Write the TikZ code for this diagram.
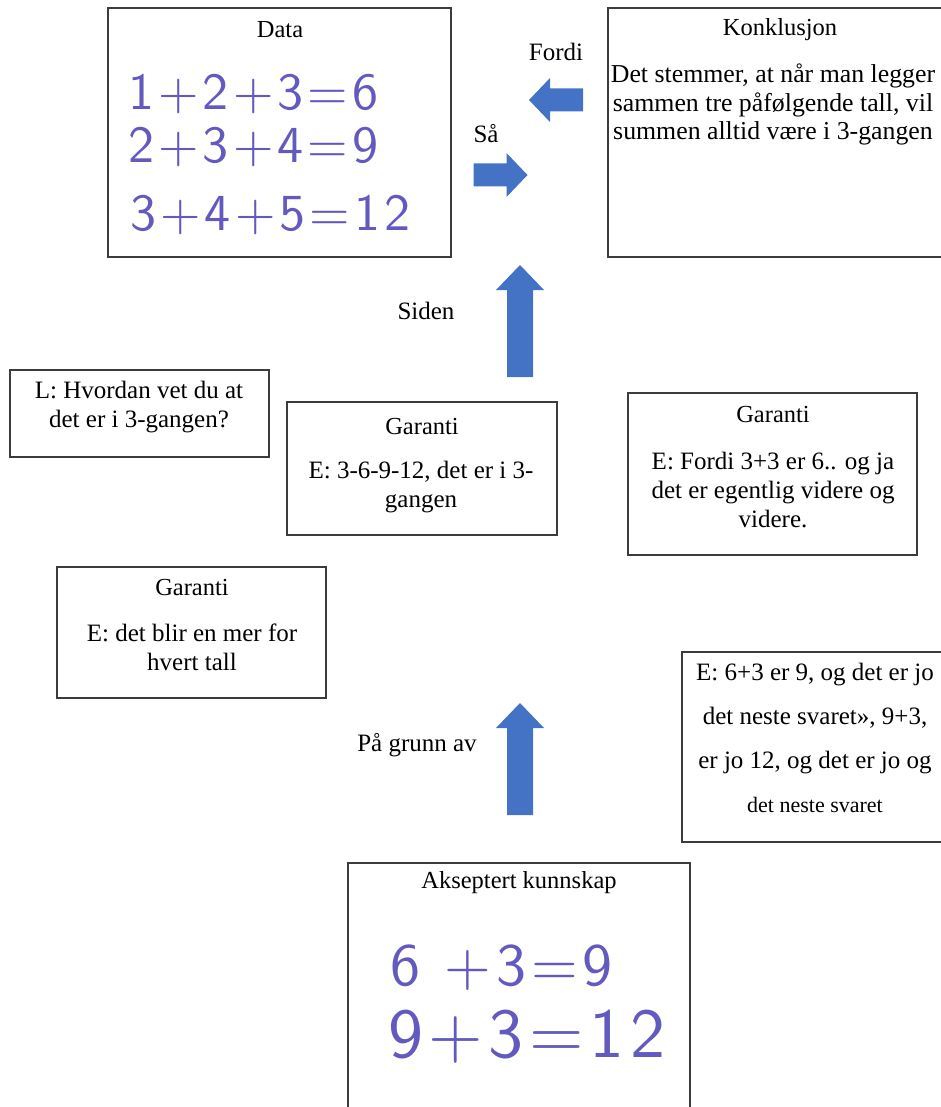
\documentclass[tikz,border=0pt]{standalone}
\usepackage{fontspec}
\setmainfont{Liberation Serif}
\newfontfamily\haandfont{lmsans10-regular}[Extension=.otf, LetterSpace=8]
\definecolor{pilblaa}{RGB}{68,114,196}
\definecolor{blekk}{RGB}{98,90,190}
\definecolor{ramme}{RGB}{60,60,60}

\begin{document}
\begin{tikzpicture}[x=1pt, y=-1pt,
	every node/.style={font=\fontsize{25}{29}\selectfont, inner sep=0pt},
	boks/.style={draw=ramme, line width=1.3pt},
	tittel/.style={font=\fontsize{24.5}{29}\selectfont},
	tekst/.style={align=center},
	haand/.style={anchor=west, text=blekk, font=\haandfont\fontsize{52}{52}\selectfont},
	sidepil/.pic={\fill[pilblaa] (-27,-11.5) -- (6,-11.5) -- (6,-22) -- (27,0) -- (6,22) -- (6,11.5) -- (-27,11.5) -- cycle;},
	opppil/.pic={\fill[pilblaa] (-56,-13) -- (31,-13) -- (31,-24) -- (56,0) -- (31,24) -- (31,13) -- (-56,13) -- cycle;}]
	\useasboundingbox (0,0) rectangle (940,1107);

	% data og konklusjon
	\node[boks, minimum width=343pt, minimum height=249pt] (data) at (279.5,132.5) {};
	\node[tittel] (datatittel) at (280,30) {Data};
	\node[haand] (rad1) at (128,94) {1+2+3=6};
	\node[haand] (rad2) at (128,147) {2+3+4=9};
	\node[haand] (rad3) at (130,215) {3+4+5=12};

	\node[boks, minimum width=344pt, minimum height=249pt] (konkl) at (780,132.5) {};
	\node[tittel] (konkltittel) at (780,30) {Konklusjon};
	\node[tekst, font=\fontsize{25.8}{28.5}\selectfont] (konkltekst) at (773,104.5) {Det stemmer, at når man legger\\sammen tre påfølgende tall, vil\\summen alltid være i 3-gangen};

	\node (fordi) at (556,52) {Fordi};
	\pic[rotate=180] (fordipil) at (556,100) {sidepil};
	\node (saa) at (486,134) {Så};
	\pic (saapil) at (500.5,175) {sidepil};

	% garantier
	\node (siden) at (426,311) {Siden};
	\pic[rotate=90] (sidenpil) at (520,321) {opppil};

	\node[boks, minimum width=259pt, minimum height=87pt] (sporsmal) at (139.5,413.5) {};
	\node[tekst] (sporsmaltekst) at (139,407.5) {L: Hvordan vet du at\\det er i 3-gangen?};

	\node[boks, minimum width=270pt, minimum height=133pt] (garanti2) at (422,468.5) {};
	\node[tittel] (garanti2tittel) at (422,427) {Garanti};
	\node[tekst] (garanti2tekst) at (421,487.5) {E: 3-6-9-12, det er i 3-\\gangen};

	\node[boks, minimum width=289pt, minimum height=162pt] (garanti3) at (772.5,474) {};
	\node[tittel] (garanti3tittel) at (773,415) {Garanti};
	\node[tekst] (garanti3tekst) at (773,490) {E: Fordi 3+3 er 6.. og ja\\det er egentlig videre og\\videre.};

	\node[boks, minimum width=269pt, minimum height=131pt] (garanti1) at (191.5,632.5) {};
	\node[tittel] (garanti1tittel) at (192,588) {Garanti};
	\node[tekst] (garanti1tekst) at (192,647.5) {E: det blir en mer for\\hvert tall};

	% akseptert kunnskap
	\node (pagrunnav) at (417,745) {På grunn av};
	\pic[rotate=90] (pagrunnavpil) at (520,759) {opppil};

	\node[boks, minimum width=268pt, minimum height=190pt] (svar) at (816,747) {};
	\node[tekst, font=\fontsize{25}{44}\selectfont] (svartekst) at (815,737.5) {E: 6+3 er 9, og det er jo\\det neste svaret», 9+3,\\er jo 12, og det er jo og\\{\fontsize{22}{44}\selectfont det neste svaret}};

	\node[boks, minimum width=342pt, minimum height=257pt] (kunnskap) at (519,991.5) {};
	\node[tittel] (kunnskaptittel) at (519,883) {Akseptert kunnskap};
	\node[haand, font=\haandfont\fontsize{60}{60}\selectfont] (kunnskap1) at (390,968) {6 +3=9};
	\node[haand, font=\haandfont\fontsize{70}{70}\selectfont] (kunnskap2) at (388,1037) {9+3=12};
\end{tikzpicture}
\end{document}
